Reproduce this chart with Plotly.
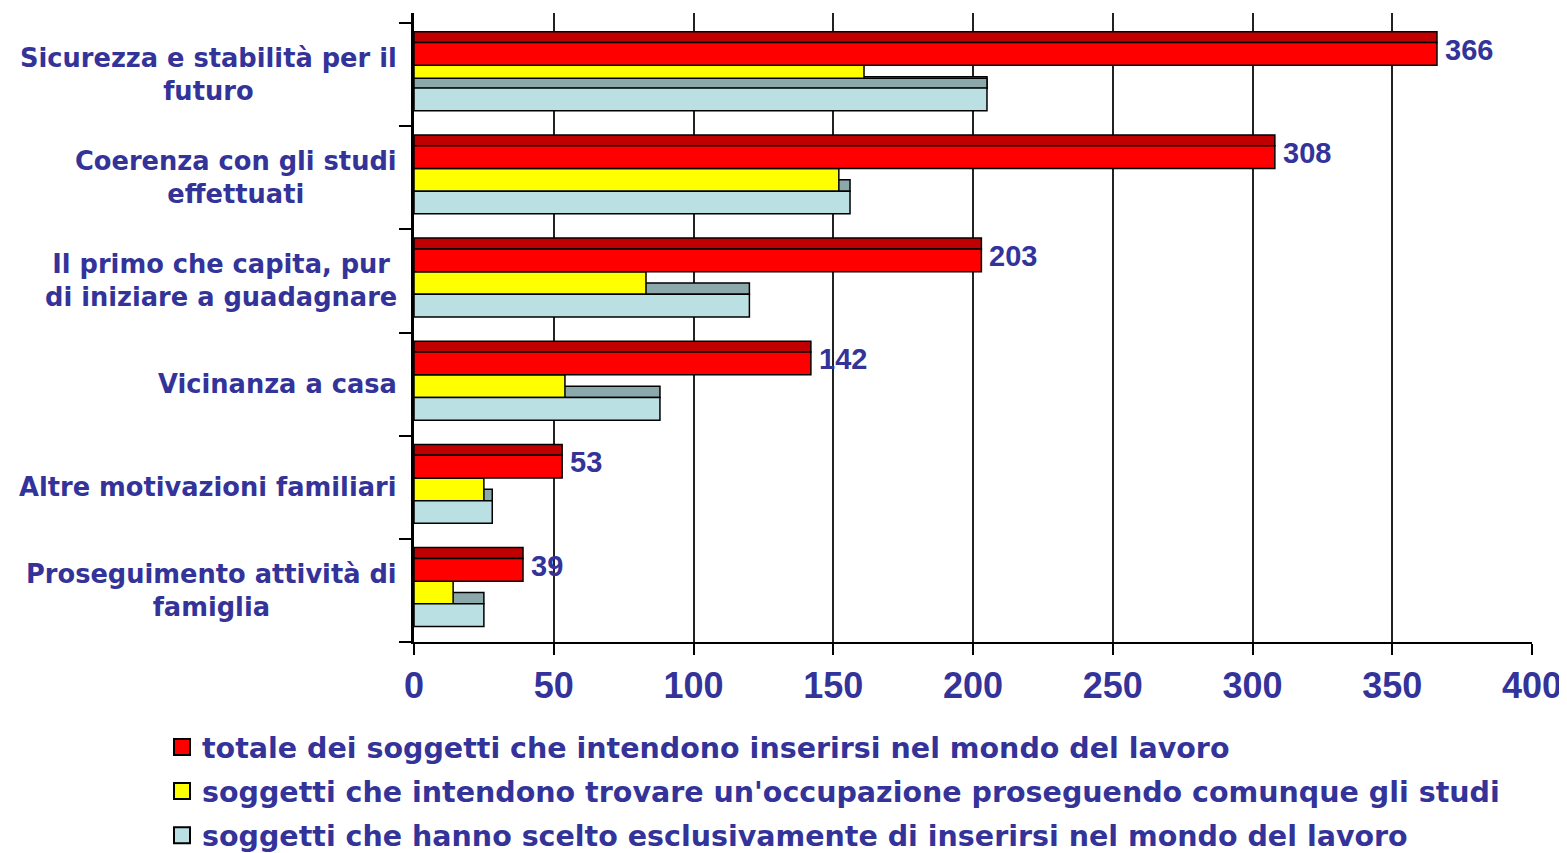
import plotly.graph_objects as go

# categories (top to bottom)
categorie = [
    "Sicurezza e stabilità per il<br>futuro",
    "Coerenza con gli studi<br>effettuati",
    "Il primo che capita, pur<br>di iniziare a guadagnare",
    "Vicinanza a casa",
    "Altre motivazioni familiari",
    "Proseguimento attività di<br>famiglia",
]
totale = [366, 308, 203, 142, 53, 39]
con_studi = [161, 152, 83, 54, 25, 14]
solo_lavoro = [205, 156, 120, 88, 28, 25]

nomi = [
    "totale dei soggetti che intendono inserirsi nel mondo del lavoro",
    "soggetti che intendono trovare un'occupazione proseguendo comunque gli studi",
    "soggetti che hanno scelto esclusivamente di inserirsi nel mondo del lavoro",
]
colori = ["#FF0000", "#FFFF00", "#BBE0E3"]
x_ticks = [0, 50, 100, 150, 200, 250, 300, 350, 400]

pos = list(range(len(categorie)))
blu = "#333399"
bordo = dict(color="black", width=1.5)

# page body has an 8px margin, so the figure is 8px smaller than the window
W, H = 1559, 845

fig = go.Figure()

# top face of the light blue bars (behind the yellow ones)
fig.add_trace(go.Bar(x=solo_lavoro, y=pos, orientation="h", offset=0.52, width=0.11,
                     marker=dict(color="#8BA9AB", line=bordo), showlegend=False, hoverinfo="skip"))
# yellow
fig.add_trace(go.Bar(x=con_studi, y=pos, orientation="h", offset=0.41, width=0.22, name=nomi[1],
                     marker=dict(color=colori[1], line=bordo), showlegend=False))
# in the first group the top face sits over the yellow bar
fig.add_trace(go.Bar(x=solo_lavoro[:1], y=pos[:1], orientation="h", offset=0.535, width=0.10,
                     marker=dict(color="#8BA9AB", line=bordo), showlegend=False, hoverinfo="skip"))
# top face of the red bars
fig.add_trace(go.Bar(x=totale, y=pos, orientation="h", offset=0.085, width=0.105,
                     marker=dict(color="#C00000", line=bordo), showlegend=False, hoverinfo="skip"))
# red
fig.add_trace(go.Bar(x=totale, y=pos, orientation="h", offset=0.19, width=0.22, name=nomi[0],
                     marker=dict(color=colori[0], line=bordo), showlegend=False))
# light blue
fig.add_trace(go.Bar(x=solo_lavoro, y=pos, orientation="h", offset=0.63, width=0.22, name=nomi[2],
                     marker=dict(color=colori[2], line=bordo), showlegend=False))

# legend entries with bigger square swatches
for i, (n, c) in enumerate(zip(nomi, colori)):
    fig.add_trace(go.Scatter(x=[None], y=[None], mode="markers", name=n, legendgroup=f"g{i}",
                             marker=dict(symbol="square", size=17, color=c,
                                         line=dict(color="black", width=2))))

# value labels on the red bars
for p, v in zip(pos, totale):
    fig.add_annotation(x=v, y=p + 0.26, text=str(v), showarrow=False, xanchor="left", xshift=6,
                       font=dict(family="Liberation Sans", size=29, color=blu, weight="bold"))

# category labels, centred lines
for p, c in zip(pos, categorie):
    fig.add_annotation(x=0, xref="paper", y=p + 0.5, text=c, showarrow=False, xanchor="right",
                       align="center", xshift=-15,
                       font=dict(family="DejaVu Sans", size=25.7, color=blu, weight="bold"))

fig.update_layout(
    width=W, height=H,
    margin=dict(l=406, r=35, t=5, b=211, autoexpand=False),
    plot_bgcolor="white", paper_bgcolor="white",
    barmode="overlay",
    showlegend=True,
    legend=dict(xref="container", yref="container", x=154 / W, y=1 - 714 / H,
                xanchor="left", yanchor="top", traceorder="grouped",
                font=dict(family="DejaVu Sans", size=28.5, color=blu, weight="bold"),
                itemclick=False, tracegroupgap=4),
    xaxis=dict(range=[0, 400], tickvals=x_ticks, showgrid=True, gridcolor="#222", gridwidth=1.5,
               showline=True, linecolor="black", linewidth=2, ticks="outside", ticklen=11,
               tickwidth=2, tickcolor="black", zeroline=False,
               tickfont=dict(family="Liberation Sans", size=36, color=blu, weight="bold")),
    yaxis=dict(range=[6, -0.097], tickvals=[], showgrid=False, zeroline=False,
               showline=True, linecolor="black", linewidth=3,
               minor=dict(tickvals=list(range(len(categorie) + 1)), ticks="outside", ticklen=12,
                          tickwidth=2, tickcolor="black", showgrid=False)),
)

fig.write_html("out.html")
